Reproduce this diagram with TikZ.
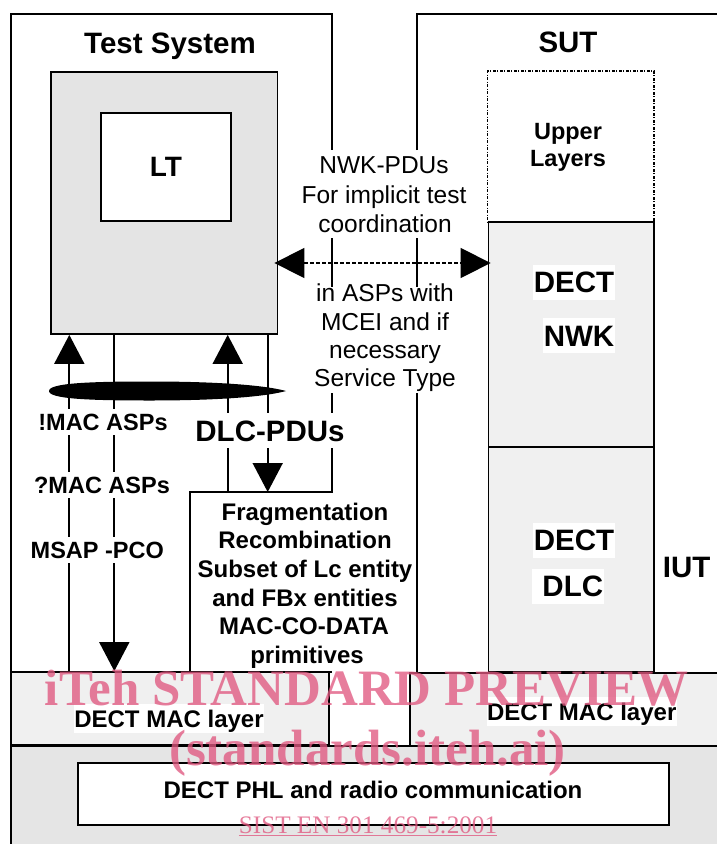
\documentclass[tikz,border=0pt]{standalone}
\usepackage{fontspec}
\setmainfont{Liberation Sans}
\newfontfamily\wmfont{Liberation Serif}
\usetikzlibrary{arrows.meta}
\definecolor{ltgray}{HTML}{E4E4E4}
\definecolor{laygray}{HTML}{F0F0F0}
\definecolor{phlgray}{HTML}{E5E5E5}
\definecolor{wmcol}{RGB}{224,88,128}
\begin{document}
\begin{tikzpicture}[x=1pt,y=-1pt,line join=miter,
  frame/.style={line width=1.8pt},
  conn/.style={line width=1.7pt},
  tipend/.style={-{Triangle[length=29pt,width=30pt]}},
  boxnode/.style={draw,line width=1.8pt,inner sep=0pt},
  hb/.style={font=\fontsize{29.5}{35}\selectfont\bfseries,inner sep=0pt,anchor=base},
  mb/.style={font=\fontsize{24}{29}\selectfont\bfseries,inner sep=0pt,anchor=base},
  sb/.style={font=\fontsize{23.5}{28}\selectfont\bfseries,anchor=base,fill=white,text height=17pt,text depth=0pt,inner ysep=4.5pt,inner xsep=2pt},
  rg/.style={font=\fontsize{24.5}{29}\selectfont,inner sep=0pt,anchor=base},
  wbg/.style={fill=white,text height=21pt,text depth=0pt,inner ysep=7pt,inner xsep=1pt},
  macbg/.style={fill=white,text height=17.3pt,text depth=0pt,inner ysep=6pt,inner xsep=0.5pt},
  wmk/.style={font=\wmfont\fontsize{51}{60}\selectfont\bfseries,text=wmcol,text opacity=0.78,inner sep=0pt,anchor=base}
]
\useasboundingbox (0,0) rectangle (717,844);
\begin{scope}
\clip (0,0) rectangle (717,844);
% physical layer region
\node[boxnode,fill=phlgray,minimum width=720pt,minimum height=114pt] (phlreg) at (371,803) {};
\node[boxnode,fill=white,minimum width=591pt,minimum height=62pt] (phl) at (373.5,794) {};
% MAC layer boxes
\node[boxnode,fill=laygray,minimum width=318pt,minimum height=73pt] (macl) at (170,708.5) {};
\node[boxnode,fill=laygray,minimum width=320pt,minimum height=73pt] (macr) at (570,709.5) {};
\draw[frame] (11,672) -- (332,672);
% SUT layers
\node[draw,line width=1.2pt,dash pattern=on 3pt off 1.5pt on 1pt off 1.5pt,minimum width=166.5pt,minimum height=151pt,inner sep=0pt] (upper) at (570.75,146.5) {};
\node[boxnode,fill=laygray,minimum width=165.5pt,minimum height=225pt] (nwk) at (571.25,334.5) {};
\node[boxnode,fill=laygray,minimum width=165.5pt,minimum height=225pt] (dlc) at (571.25,559.5) {};
% frames
\draw[frame] (11,860) -- (11,14) -- (332,14) -- (332,150);
\draw[frame] (332,238) -- (332,287);
\draw[frame] (332,393) -- (332,492) -- (190,492) -- (190,672);
\draw[frame] (417,150) -- (417,14) -- (730,14);
\draw[frame] (417,238) -- (417,287);
\draw[frame] (417,393) -- (417,672);
% LT boxes
\node[boxnode,fill=ltgray,minimum width=226.5pt,minimum height=262pt] (ltout) at (164.25,203) {};
\node[boxnode,fill=white,minimum width=130pt,minimum height=108pt,font=\fontsize{28}{33}\selectfont\bfseries,text depth=0pt] (ltin) at (166,167) {LT};
% vertical connectors
\coordinate (a1) at (69.3,672);
\coordinate (a2) at (114.3,334);
\coordinate (a3) at (227.7,492);
\coordinate (a4) at (267.7,334);
\draw[conn,tipend] (a1) -- (a1 |- ltout.south);
\draw[conn,tipend] (a2) -- (a2 |- macl.north);
\draw[conn,tipend] (a3) -- (a3 |- ltout.south);
\coordinate (fragtop) at (267.7,492);
\draw[conn,tipend] (a4) -- (fragtop);
% dashed double arrow
\coordinate (dy) at (0,263);
\draw[line width=1.4pt,dash pattern=on 4pt off 2pt,{Triangle[length=30pt,width=30pt]}-{Triangle[length=30pt,width=30pt]},shorten <=-4pt,shorten >=-3pt] (ltout.east |- dy) -- (nwk.west |- dy);
% ellipse bundle
\fill (49,391) .. controls (49,383) and (90,381.5) .. (150,381.5) .. controls (225,381.5) and (268,386) .. (286,391) .. controls (268,396) and (225,400.5) .. (150,400.5) .. controls (90,400.5) and (49,399) .. (49,391) -- cycle;
% titles
\node[hb] (tstitle) at (170,53) {Test System};
\node[hb] (suttitle) at (568,52) {SUT};
\node[mb,font=\fontsize{23.5}{28}\selectfont\bfseries] (up1) at (568,139) {Upper};
\node[mb,font=\fontsize{23.5}{28}\selectfont\bfseries] (up2) at (568,166) {Layers};
% NWK-PDU text
\node[rg] (n1) at (384,173.5) {NWK-PDUs};
\node[rg] (n2) at (384,203) {For implicit test};
\node[rg] (n3) at (385,232) {coordination};
\node[rg] (n4) at (385,301.5) {in ASPs with};
\node[rg] (n5) at (385,330) {MCEI and if};
\node[rg] (n6) at (385,358.3) {necessary};
\node[rg] (n7) at (385,386.5) {Service Type};
% left labels
\node[sb] (l1) at (103,430) {!MAC ASPs};
\node[sb] (l2) at (102,493.3) {?MAC ASPs};
\node[sb] (l3) at (97.3,558.3) {MSAP -PCO};
\node[hb,wbg,inner xsep=3pt] (dlcpdu) at (270,441) {DLC-PDUs};
% fragmentation text
\node[mb] (f1) at (305,520) {Fragmentation};
\node[mb] (f2) at (305,548.7) {Recombination};
\node[mb] (f3) at (305,577.4) {Subset of Lc entity};
\node[mb] (f4) at (305,606.1) {and FBx entities};
\node[mb] (f5) at (304,634.8) {MAC-CO-DATA};
\node[mb] (f6) at (307,663.5) {primitives};
% SUT layer labels
\node[hb,wbg] (d1) at (574,292.7) {DECT};
\node[hb,wbg] (d2) at (579,346) {NWK};
\node[hb,wbg] (d3) at (574,550.7) {DECT};
\node[hb,wbg] (d4) at (568.3,596.7) {\hspace*{9pt}DLC};
\node[hb] (iut) at (686.7,577.3) {IUT};
% MAC and PHL labels
\node[mb,macbg] (m1) at (169,727.3) {DECT MAC layer};
\node[mb,macbg] (m2) at (581.7,720) {DECT MAC layer};
\node[mb] (p1) at (373,798.3) {DECT PHL and radio communication};
% watermark
\node[wmk] (wm1) at (366.5,705) {iTeh STANDARD PREVIEW};
\node[wmk] (wm2) at (367.5,765) {(standards.iteh.ai)};
\node[wmk,font=\wmfont\fontsize{25.2}{30}\selectfont] (wm3) at (368,833) {\underline{SIST EN 301 469-5:2001}};
\end{scope}
\end{tikzpicture}
\end{document}
